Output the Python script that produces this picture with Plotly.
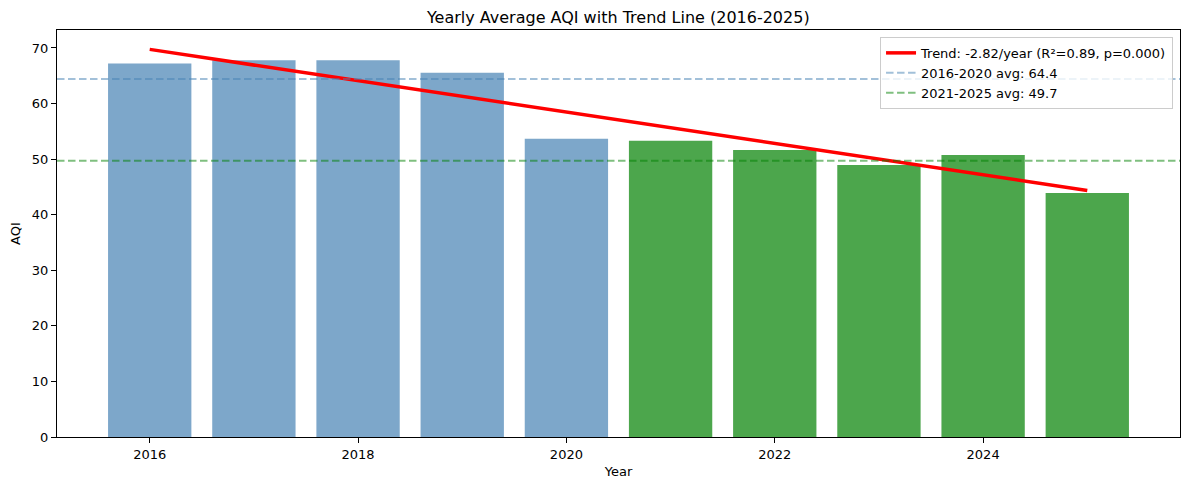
import numpy as np
import plotly.graph_objects as go

years = [2016, 2017, 2018, 2019, 2020, 2021, 2022, 2023, 2024, 2025]
aqi = [67.2, 67.8, 67.8, 65.55, 53.65, 53.3, 51.65, 48.95, 50.75, 43.9]
p_text = "0.000"

x = np.array(years, dtype=float)
y = np.array(aqi, dtype=float)
slope, intercept = np.polyfit(x, y, 1)
fit = slope * x + intercept
r2 = 1 - np.sum((y - fit) ** 2) / np.sum((y - y.mean()) ** 2)

early = [v for yr, v in zip(years, aqi) if yr <= 2020]
late = [v for yr, v in zip(years, aqi) if yr >= 2021]
avg_early = float(np.mean(early))
avg_late = float(np.mean(late))

blue_bar = "rgba(70,130,180,0.7)"
green_bar = "rgba(0,128,0,0.7)"
bar_colors = [blue_bar if yr <= 2020 else green_bar for yr in years]
blue_line = "rgba(70,130,180,0.5)"
green_line = "rgba(0,128,0,0.5)"
DASH = "7.5px,3.5px"

FONT = "DejaVu Sans"

fig = go.Figure()
fig.add_trace(go.Bar(x=years, y=aqi, width=0.8, marker=dict(color=bar_colors, line=dict(width=0)),
                     showlegend=False, hoverinfo="skip"))
fig.add_trace(go.Scatter(x=years, y=fit, mode="lines", line=dict(color="red", width=3.5),
                         name=f"Trend: {slope:.2f}/year (R²={r2:.2f}, p={p_text})"))
fig.add_trace(go.Scatter(x=[None], y=[None], mode="lines",
                         line=dict(color=blue_line, width=2, dash=DASH),
                         name=f"2016-2020 avg: {avg_early:.1f}"))
fig.add_trace(go.Scatter(x=[None], y=[None], mode="lines",
                         line=dict(color=green_line, width=2, dash=DASH),
                         name=f"2021-2025 avg: {avg_late:.1f}"))

fig.add_hline(y=avg_early, line=dict(color=blue_line, width=2, dash=DASH), layer="above")
fig.add_hline(y=avg_late, line=dict(color=green_line, width=2, dash=DASH), layer="above")

ymax = max(max(aqi), float(fit.max())) * 1.05
fig.update_layout(
    width=1189, height=490,
    margin=dict(l=57, r=9, t=30, b=53, autoexpand=False),
    plot_bgcolor="white", paper_bgcolor="white",
    font=dict(family=FONT, size=13, color="black"),
    title=dict(text="Yearly Average AQI with Trend Line (2016-2025)", x=0.52, xanchor="center",
               xref="container", y=1 - 17 / 490, yanchor="middle", yref="container",
               font=dict(size=16, color="black"), automargin=False),
    bargap=0.2,
    showlegend=True,
    legend=dict(x=0.9938, y=0.983, xanchor="right", yanchor="top",
                bgcolor="rgba(255,255,255,0.8)", bordercolor="#cccccc", borderwidth=1,
                font=dict(size=13), tracegroupgap=0, itemwidth=30),
    xaxis=dict(range=[2015.11, 2025.89], tickvals=[2016, 2018, 2020, 2022, 2024],
               showline=True, linecolor="black", linewidth=1, mirror=True, automargin=False,
               ticks="outside", ticklen=5, tickcolor="black", showgrid=False, zeroline=False,
               title=dict(text="Year", standoff=6, font=dict(size=13))),
    yaxis=dict(range=[0, ymax], tickvals=list(range(0, 80, 10)), automargin=False,
               showline=True, linecolor="black", linewidth=1, mirror=True,
               ticks="outside", ticklen=5, tickcolor="black", showgrid=False, zeroline=False,
               title=dict(text="AQI", standoff=8, font=dict(size=13))),
)

post = ("document.body.style.margin='0';document.body.style.padding='0';"
        "document.documentElement.style.overflow='hidden';"
        "var gd=document.getElementById('{plot_id}');Plotly.relayout(gd,{width:1189,height:490});")
fig.write_html("out.html", post_script=post, config={"displayModeBar": False})
